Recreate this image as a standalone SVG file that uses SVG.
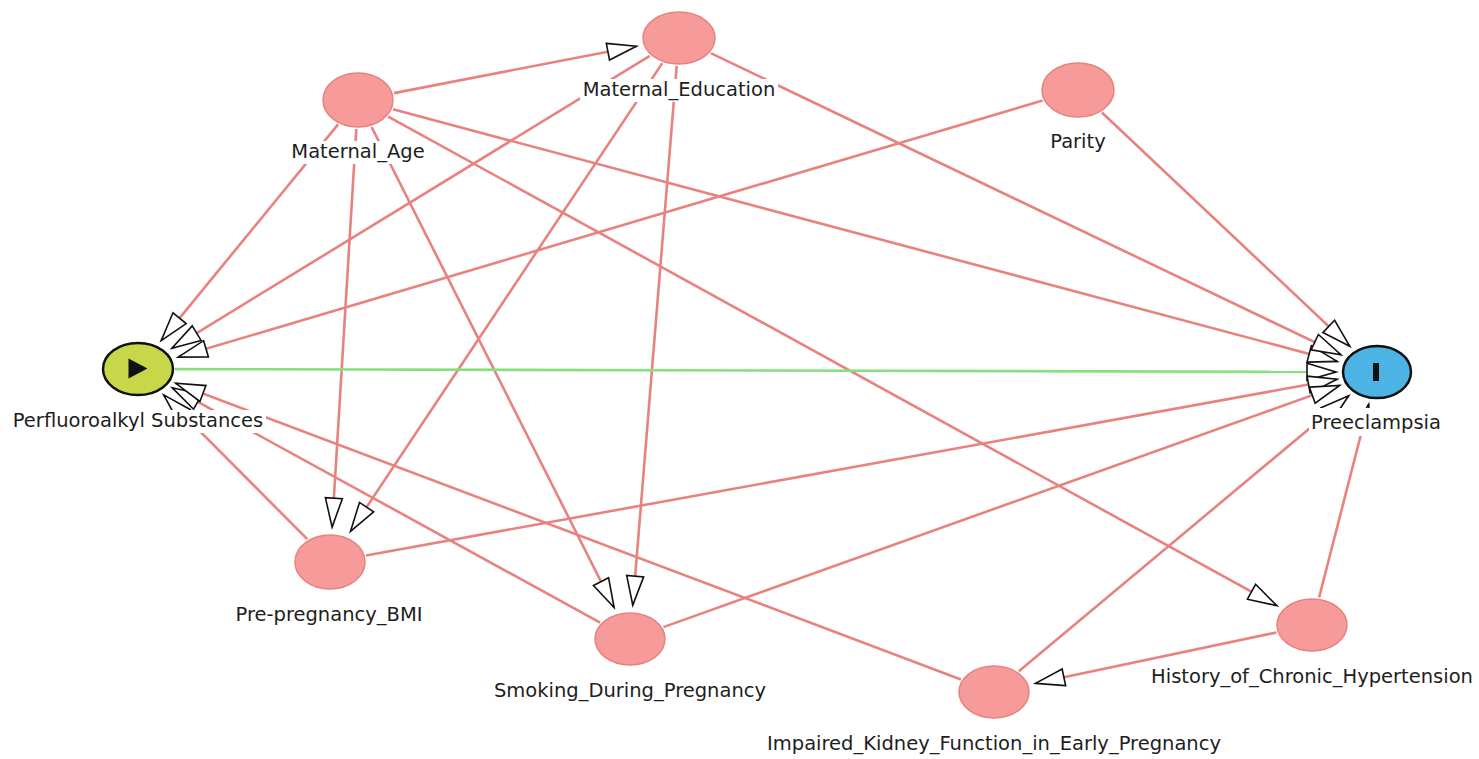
<svg xmlns="http://www.w3.org/2000/svg" width="1479" height="759" viewBox="0 0 1479 759">
<style>
.e{stroke:#e8827f;stroke-width:2.6;fill:none;marker-end:url(#arr)}
.g{stroke:#86e07c;stroke-width:2.6;fill:none;marker-end:url(#arr)}
.n{fill:#f69b99;stroke:#e6837f;stroke-width:1.5}
.bg{fill:#ffffff}
.t{font-family:"DejaVu Sans",sans-serif;font-size:19.5px;fill:#1e1e1e;text-anchor:middle}
</style>
<defs>
<marker id="arr" markerUnits="userSpaceOnUse" markerWidth="40" markerHeight="30" refX="29" refY="8.5" orient="auto" overflow="visible">
<path d="M0,0 L29,8.5 L0,17 Z" fill="#fff" stroke="#111" stroke-width="1.6" stroke-linejoin="miter"/>
</marker>
</defs>
<rect width="1479" height="759" fill="#fff"/>
<g id="connectors">
<line class="e" x1="393.9" y1="93.1" x2="636.4" y2="46.2"/>
<line class="e" x1="338.1" y1="124.4" x2="161.2" y2="340.6"/>
<line class="e" x1="356.3" y1="129" x2="332.1" y2="527.1"/>
<line class="e" x1="371.6" y1="127" x2="614.1" y2="607.5"/>
<line class="e" x1="393" y1="109.3" x2="1337.2" y2="361.4"/>
<line class="e" x1="388.2" y1="116.6" x2="1276.9" y2="605.7"/>
<line class="e" x1="649.8" y1="55.8" x2="171.9" y2="348.3"/>
<line class="e" x1="662.3" y1="63.1" x2="350.5" y2="531.3"/>
<line class="e" x1="676.7" y1="65.9" x2="632.8" y2="605.1"/>
<line class="e" x1="710.8" y1="53.2" x2="1340.9" y2="354.7"/>
<line class="e" x1="1042.6" y1="100.5" x2="178.2" y2="357.1"/>
<line class="e" x1="1101.9" y1="112.5" x2="1349.8" y2="346.3"/>
<line class="g" x1="175" y1="369.1" x2="1336" y2="371.9"/>
<line class="e" x1="307.3" y1="539.2" x2="163.7" y2="394.9"/>
<line class="e" x1="366" y1="555.5" x2="1337.1" y2="379.3"/>
<line class="e" x1="600.1" y1="622.6" x2="172.3" y2="387.8"/>
<line class="e" x1="663.4" y1="627.1" x2="1339.6" y2="385.4"/>
<line class="e" x1="960.9" y1="679.5" x2="175.8" y2="383.3"/>
<line class="e" x1="1018.8" y1="671.3" x2="1348.7" y2="395.7"/>
<line class="e" x1="1276.4" y1="632.5" x2="1035.5" y2="683.3"/>
<line class="e" x1="1319.1" y1="597.5" x2="1368.7" y2="404.3"/>
</g>
<g id="node-maternal-age">
<ellipse class="n" cx="358" cy="100" rx="35" ry="27"/>
<rect class="bg" x="289" y="141" width="138" height="23"/>
<text class="t" x="358" y="158">Maternal_Age</text>
</g>
<g id="node-maternal-education">
<ellipse class="n" cx="679" cy="38" rx="36" ry="26"/>
<rect class="bg" x="580" y="79" width="198" height="23"/>
<text class="t" x="679" y="96">Maternal_Education</text>
</g>
<g id="node-parity">
<ellipse class="n" cx="1078" cy="90" rx="36" ry="27"/>
<rect class="bg" x="1048" y="131" width="60" height="23"/>
<text class="t" x="1078" y="148">Parity</text>
</g>
<g id="node-pfas">
<ellipse cx="138" cy="369" rx="35" ry="26" fill="#c6d84a" stroke="#111" stroke-width="2.5"/>
<polygon points="128.5,358.5 147.5,368.5 128.5,378.5" fill="#111"/>
<rect class="bg" x="10" y="410" width="256" height="23"/>
<text class="t" x="138" y="427">Perfluoroalkyl Substances</text>
</g>
<g id="node-preeclampsia">
<ellipse cx="1377" cy="372" rx="34" ry="26" fill="#4bb4e4" stroke="#111" stroke-width="2.5"/>
<rect x="1373" y="363" width="6" height="18" fill="#111"/>
<rect class="bg" x="1309" y="408" width="135" height="28"/>
<text class="t" x="1376" y="429">Preeclampsia</text>
</g>
<g id="node-bmi">
<ellipse class="n" cx="330" cy="562" rx="35" ry="27"/>
<rect class="bg" x="233" y="604" width="194" height="23"/>
<text class="t" x="329" y="621">Pre-pregnancy_BMI</text>
</g>
<g id="node-smoking">
<ellipse class="n" cx="630" cy="639" rx="35" ry="26"/>
<rect class="bg" x="491" y="680" width="278" height="23"/>
<text class="t" x="630" y="697">Smoking_During_Pregnancy</text>
</g>
<g id="node-history">
<ellipse class="n" cx="1312" cy="625" rx="35" ry="26"/>
<rect class="bg" x="1149" y="666" width="326" height="23"/>
<text class="t" x="1312" y="683">History_of_Chronic_Hypertension</text>
</g>
<g id="node-kidney">
<ellipse class="n" cx="994" cy="692" rx="35" ry="26"/>
<rect class="bg" x="764" y="733" width="460" height="23"/>
<text class="t" x="994" y="750">Impaired_Kidney_Function_in_Early_Pregnancy</text>
</g>
</svg>
